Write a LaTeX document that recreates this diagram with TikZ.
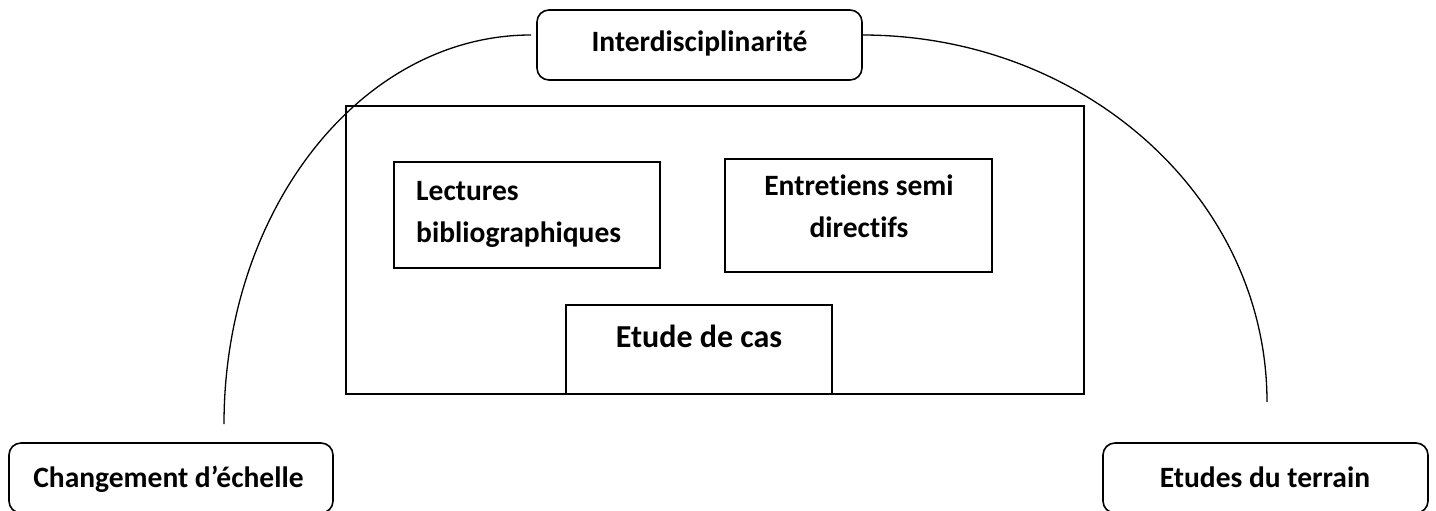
\documentclass[tikz,border=0pt]{standalone}
\usepackage{fontspec}
\setmainfont{Carlito}[Ligatures=NoCommon]
\begin{document}
\begin{tikzpicture}[x=1pt,y=-1pt,
  box/.style={draw, line width=1.6pt, rounded corners=12pt, inner sep=0pt},
  sq/.style={draw, line width=1.6pt, inner sep=0pt},
  txt/.style={font=\fontsize{29.5}{42}\selectfont\bfseries, inner sep=0pt, anchor=base},
  bigtxt/.style={font=\fontsize{32}{40}\selectfont\bfseries, inner sep=0pt, anchor=base},
  arcline/.style={line width=1.3pt}]
\useasboundingbox (0,0) rectangle (1436,511);
\clip (0,0) rectangle (1436,511);
% top box
\node[box, minimum width=325pt, minimum height=70pt] (inter) at (699.5,45) {};
\node[txt] (interT) at (699.5,52) {Interdisciplinarité};
% central frame
\node[sq, minimum width=738pt, minimum height=288pt] (frame) at (715,250) {};
\node[sq, minimum width=266pt, minimum height=106pt] (lect) at (527,215) {};
\node[txt, anchor=base west, align=left] (lectT) at (416,242) {Lectures\\bibliographiques};
\node[sq, minimum width=267pt, minimum height=113pt] (entr) at (858.5,215.5) {};
\node[txt, align=center] (entrT) at (859,237) {Entretiens semi\\directifs};
\node[sq, minimum width=266pt, minimum height=89pt] (etude) at (699,349.5) {};
\node[bigtxt] (etudeT) at (699,347) {Etude de cas};
% bottom boxes
\node[box, minimum width=324pt, minimum height=70pt] (chg) at (171,478) {};
\node[txt] (chgT) at (168.5,487) {Changement d’échelle};
\node[box, minimum width=325pt, minimum height=70pt] (ter) at (1265.5,478) {};
\node[txt] (terT) at (1265,487) {Etudes du terrain};
% arcs
\coordinate (lA) at (531,35);
\coordinate (lB) at (224,424);
\coordinate (rA) at (862,35);
\coordinate (rB) at (1267,402);
\draw[arcline] (lA) .. controls (361.4,35) and (224,209.2) .. (lB);
\draw[arcline] (rA) .. controls (1085.7,35) and (1267,199.3) .. (rB);
\end{tikzpicture}
\end{document}
